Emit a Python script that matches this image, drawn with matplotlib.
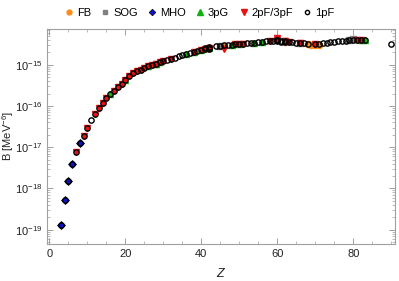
import numpy as np
import matplotlib.pyplot as plt
from matplotlib.ticker import MultipleLocator, LogLocator, NullFormatter, FixedLocator

plt.rcParams['font.family'] = ['Liberation Sans', 'DejaVu Sans']
plt.rcParams['mathtext.fontset'] = 'custom'
plt.rcParams['mathtext.rm'] = 'Liberation Sans'
plt.rcParams['mathtext.it'] = 'Liberation Sans:italic'

# values in units of 1e-15 MeV^-6
fb_z = [42, 46, 62, 68, 69, 70, 71]
fb_b = [2.5, 2.9, 3.6, 3.15, 3.05, 3.0, 3.1]

sog_z = [28, 45, 62, 66, 79, 80]
sog_b = [1.05, 2.85, 3.7, 3.4, 3.95, 4.15]

mho_z = [3, 4, 5, 6, 8]
mho_b = [0.00013, 0.00052, 0.0015, 0.0039, 0.0126]

g3_z = [16, 20, 26, 28, 29, 36, 38, 40, 42, 48, 50, 54, 56, 82, 83]
g3_b = [0.195, 0.43, 0.92, 1.05, 1.15, 1.85, 2.05, 2.3, 2.55, 3.05, 3.2, 3.45, 3.55, 3.95, 3.9]

f23_z = [7, 9, 10, 12, 13, 14, 15, 17, 18, 19, 20, 21, 22, 23, 24, 25, 26, 27,
         28, 29, 30, 32, 38, 40, 41, 42, 46, 49, 50, 51, 58, 60, 60, 62, 63, 66, 70, 81, 82]
f23_b = [0.0076, 0.019, 0.029, 0.064, 0.089, 0.12, 0.155, 0.235, 0.29, 0.35, 0.43,
         0.52, 0.62, 0.70, 0.76, 0.85, 0.92, 0.98, 1.05, 1.15, 1.22, 1.35, 2.05, 2.3,
         2.45, 2.6, 2.4, 3.15, 3.2, 3.25, 3.8, 3.9, 4.5, 3.7, 3.6, 3.35, 3.15, 3.95, 3.95]

f1_z = [3, 4, 5, 6, 7, 8, 9, 10, 11, 12, 13, 14, 15, 16, 17, 18, 19, 20, 21, 22, 23,
        24, 25, 26, 27, 28, 29, 30, 31, 32, 33, 34, 35, 36, 37, 38, 39, 40, 41, 41,
        42, 42, 42, 44, 45, 46, 47, 48, 49, 50, 51, 52, 53, 54, 55, 56, 57, 58, 59,
        60, 60, 60, 61, 61, 62, 62, 63, 64, 65, 66, 67, 68, 70, 71, 72, 73, 74, 75,
        76, 77, 78, 79, 80, 81, 82, 83, 90]
f1_b = [0.00013, 0.00052, 0.0015, 0.0039, 0.0076, 0.0126, 0.019, 0.029, 0.046,
        0.064, 0.089, 0.12, 0.155, 0.195, 0.235, 0.29, 0.35, 0.43, 0.52, 0.62, 0.70,
        0.76, 0.85, 0.92, 0.98, 1.05, 1.15, 1.22, 1.28, 1.35, 1.45, 1.6, 1.75, 1.85,
        1.95, 2.05, 2.2, 2.3, 2.35, 2.5, 2.45, 2.6, 2.75, 2.8, 2.9, 2.95, 3.0, 3.05,
        3.15, 3.2, 3.25, 3.35, 3.4, 3.45, 3.5, 3.55, 3.7, 3.8, 3.85, 3.7, 3.9, 4.1,
        3.65, 3.85, 3.6, 3.8, 3.6, 3.5, 3.45, 3.35, 3.3, 3.2, 3.15, 3.2, 3.3, 3.4,
        3.5, 3.6, 3.7, 3.8, 3.85, 3.9, 3.9, 3.95, 3.95, 3.9, 3.2]

y_major = [1e-19, 1e-18, 1e-17, 1e-16, 1e-15]

scale = 1e-15
fig = plt.figure(figsize=(3.99, 2.81), dpi=100)
ax = fig.add_axes([0.118, 0.132, 0.872, 0.765])

ms = 4.4
ax.plot(fb_z, np.array(fb_b) * scale, 'o', color='#ff8c1a', ms=ms, mec='#ff8c1a', label='FB')
ax.plot(sog_z, np.array(sog_b) * scale, 's', color='#808080', ms=ms - 0.4, label='SOG')
ax.plot(mho_z, np.array(mho_b) * scale, 'D', color='#1010d0', ms=ms - 0.2, mec='k', mew=0.5, label='MHO')
ax.plot(g3_z, np.array(g3_b) * scale, '^', color='#10b010', ms=ms + 0.6, label='3pG')
ax.plot(f23_z, np.array(f23_b) * scale, 'v', color='#e81010', ms=ms + 0.6, label='2pF/3pF')
ax.plot(f1_z, np.array(f1_b) * scale, 'o', mfc='none', mec='k', mew=1.0, ms=ms - 0.6, label='1pF')

ax.set_yscale('log')
ax.set_xlim(-0.6, 91)
ax.set_ylim(4.5e-20, 7.4e-15)
ax.xaxis.set_major_locator(MultipleLocator(20))
ax.xaxis.set_minor_locator(MultipleLocator(5))
ax.yaxis.set_major_locator(FixedLocator(y_major))
ax.yaxis.set_minor_locator(LogLocator(base=10, subs=np.arange(2, 10), numticks=20))
ax.yaxis.set_minor_formatter(NullFormatter())

for s in ax.spines.values():
    s.set_color('#a0a0a0')
    s.set_linewidth(0.8)
ax.tick_params(which='both', direction='in', top=True, right=True, colors='#a0a0a0',
               labelcolor='#222222', labelsize=8)
ax.tick_params(which='major', length=4, width=0.7)
ax.tick_params(which='minor', length=2, width=0.5)

ax.set_xlabel('$Z$', fontsize=9, color='#222222', labelpad=6)
ax.set_ylabel('B [MeV$^{-6}$]', fontsize=8, color='#222222')
ax.yaxis.set_label_coords(-0.09, 0.5)

fig.legend(*ax.get_legend_handles_labels(), loc='center', bbox_to_anchor=(0.5, 0.955),
           ncol=6, frameon=False, fontsize=8, handletextpad=0.3, columnspacing=0.9,
           handlelength=0.8, markerscale=0.8)

fig.savefig('out.png', dpi=100)
